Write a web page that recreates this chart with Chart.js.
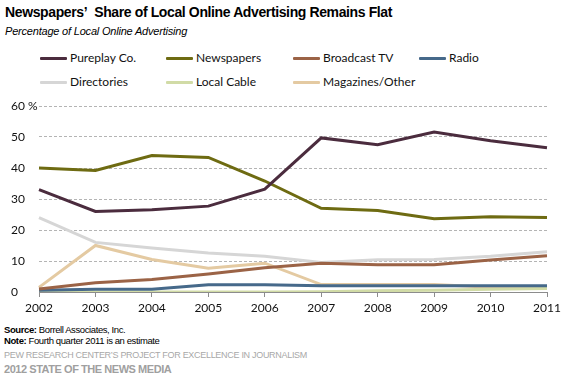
<!DOCTYPE html>
<html>
<head>
<meta charset="utf-8">
<script src="https://cdn.jsdelivr.net/npm/chart.js@4"></script>
<style>
  html, body { margin: 0; padding: 0; background: #fff; }
  #wrap { position: relative; width: 569px; height: 385px; overflow: hidden; font-family: "Liberation Sans", Arial, sans-serif; }
  .abs { position: absolute; white-space: nowrap; }
  #title { left: 5px; top: 4px; font-weight: bold; font-size: 14px; letter-spacing: -0.38px; color: #000; }
  #subtitle { left: 5px; top: 25px; font-style: italic; font-size: 11px; letter-spacing: -0.2px; color: #000; }
  #canvasBox { position: absolute; left: 0; top: 95px; width: 569px; height: 225px; }
  .leg { position: absolute; font-family: Lato, "Open Sans", sans-serif; font-size: 12px; color: #111; line-height: 14px; }
  .leg .sw { position: absolute; left: 0; top: 6px; width: 27px; height: 3px; border-radius: 1px; }
  .leg .tx { position: absolute; left: 30px; top: 0; white-space: nowrap; }
  .foot { font-size: 9.5px; color: #000; letter-spacing: -0.4px; }
  .pew { font-size: 9px; color: #a8a8a8; letter-spacing: -0.3px; }
  .pew2 { font-size: 11px; font-weight: bold; color: #a0a0a0; letter-spacing: -0.45px; }
</style>
</head>
<body>
<div id="wrap">
  <div id="title" class="abs">Newspapers’&nbsp; Share of Local Online Advertising Remains Flat</div>
  <div id="subtitle" class="abs">Percentage of Local Online Advertising</div>
  <div id="legend"></div>
  <div id="canvasBox"><canvas id="c" width="569" height="225"></canvas></div>
  <div class="abs foot" style="left:4px; top:324px;"><b>Source:</b> Borrell Associates, Inc.</div>
  <div class="abs foot" style="left:4px; top:335px;"><b>Note:</b> Fourth quarter 2011 is an estimate</div>
  <div class="abs pew" style="left:4px; top:350px;">PEW RESEARCH CENTER’S PROJECT FOR EXCELLENCE IN JOURNALISM</div>
  <div class="abs pew2" style="left:4px; top:363px;">2012 STATE OF THE NEWS MEDIA</div>
</div>
<script>
const years = ["2002","2003","2004","2005","2006","2007","2008","2009","2010","2011"];
const yTicks = [0, 10, 20, 30, 40, 50, 60];
const seriesNames = ["Pureplay Co.", "Newspapers", "Broadcast TV", "Radio", "Directories", "Local Cable", "Magazines/Other"];
const pureplay   = [33, 26, 26.5, 27.7, 33.2, 49.7, 47.5, 51.6, 48.8, 46.5];
const newspapers = [40, 39.2, 44, 43.4, 35.8, 27, 26.3, 23.6, 24.3, 24];
const broadcastTV = [1, 3, 4, 5.8, 7.8, 9.3, 8.8, 8.8, 10.3, 11.7];
const radio      = [0.6, 0.9, 0.9, 2.3, 2.3, 2, 2, 2, 2, 2];
const directories = [24, 16, 14.2, 12.6, 11.5, 9.5, 10.4, 10.5, 11.5, 13];
const localCable = [0, 0, 0, 0, 0, 0.1, 0.4, 0.6, 0.9, 1.1];
const magazines  = [1.5, 15, 10.5, 7.7, 9.3, 2.4, 2.4, 2.4, 1.5, 1.3];

const seriesData = [pureplay, newspapers, broadcastTV, radio, directories, localCable, magazines];
const colors = ["#4b2c3e", "#6e6b12", "#9b6346", "#46698a", "#d6d6d6", "#d1dba6", "#e4caa2"];

// HTML legend (4 columns)
const colX = [40, 166, 293, 419];
const rowY = [51, 75];
const legend = document.getElementById('legend');
seriesNames.forEach((name, i) => {
  const d = document.createElement('div');
  d.className = 'leg';
  d.style.left = colX[i % 4] + 'px';
  d.style.top = rowY[Math.floor(i / 4)] + 'px';
  d.innerHTML = '<div class="sw" style="background:' + colors[i] + '"></div><div class="tx">' + name + '</div>';
  legend.appendChild(d);
});

const datasets = seriesNames.map((name, i) => ({
  label: name,
  data: seriesData[i],
  borderColor: colors[i],
  backgroundColor: colors[i],
  borderWidth: 3,
  pointRadius: 0,
  tension: 0,
  fill: false,
  borderCapStyle: 'butt',
  borderJoinStyle: 'miter',
  order: i
}));

new Chart(document.getElementById('c'), {
  type: 'line',
  data: { labels: years, datasets },
  options: {
    responsive: false,
    animation: false,
    events: [],
    layout: { padding: { left: 11, right: 22, top: 11, bottom: 0 } },
    plugins: { legend: { display: false }, tooltip: { enabled: false } },
    scales: {
      x: {
        offset: false,
        grid: { drawOnChartArea: false, drawTicks: true, tickLength: 5, color: '#8c8c8c' },
        border: { display: true, color: '#8c8c8c', width: 1 },
        ticks: { color: '#111', font: { family: 'Lato', size: 12 }, padding: 4, maxRotation: 0, autoSkip: false },
        afterFit: s => { s.height = 28; }
      },
      y: {
        min: 0, max: 60,
        afterBuildTicks: s => { s.ticks = yTicks.map(v => ({ value: v })); },
        grid: {
          drawTicks: false,
          color: ctx => ctx.tick && ctx.tick.value === 0 ? 'rgba(0,0,0,0)' : '#b4b4b4',
          lineWidth: 1
        },
        border: { display: false, dash: [3, 2] },
        ticks: {
          color: '#111', font: { family: 'Lato', size: 12 }, padding: 0, crossAlign: 'far',
          callback: v => v === 60 ? '60 %' : String(v)
        },
        afterFit: s => { s.width = 28; }
      }
    }
  }
});
</script>
</body>
</html>
